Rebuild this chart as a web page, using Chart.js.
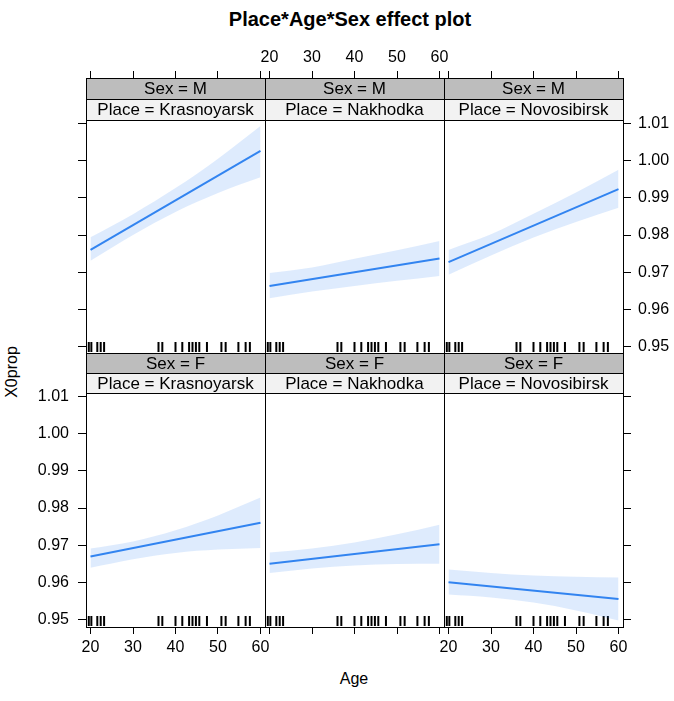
<!DOCTYPE html>
<html><head><meta charset="utf-8">
<script src="https://cdn.jsdelivr.net/npm/chart.js@4.4.0/dist/chart.umd.min.js"></script>
<style>
html,body{margin:0;padding:0;background:#fff;}
#wrap{position:relative;width:674px;height:701px;overflow:hidden;font-family:"Liberation Sans",Arial,Helvetica,sans-serif;color:#000;}
#wrap canvas{position:absolute;left:0;top:0;}
.t{position:absolute;white-space:nowrap;line-height:20px;}
#title{left:350px;top:8px;transform:translateX(-50%);font-weight:bold;font-size:20px;line-height:22px;}
#xlab{left:354px;top:669px;transform:translateX(-50%);font-size:16px;}
#ylab{left:12px;top:372px;transform:translate(-50%,-50%) rotate(-90deg);font-size:16px;}
</style></head><body>
<div id="wrap">
<div class="t" id="title">Place*Age*Sex effect plot</div>
<div class="t" id="xlab">Age</div>
<div class="t" id="ylab">X0prop</div>
</div>
<script>
// ---------------- data ----------------
const places = ['Krasnoyarsk', 'Nakhodka', 'Novosibirsk'];
const sexes = ['M', 'F'];
const xTicks = [20, 30, 40, 50, 60];
const yTicks = [0.95, 0.96, 0.97, 0.98, 0.99, 1.00, 1.01];
const fitAges = [20, 60];
const bandAges = [20, 30, 40, 50, 60];
const rugAges = [19.6, 20.2, 21.6, 22.4, 23.2, 36.0, 36.9, 40.0, 41.6, 43.2, 44.0, 44.8, 45.6, 47.4, 50.8, 51.8, 54.8, 56.5, 57.5];

const fitM_Krasnoyarsk = [0.9760, 1.0026];
const lowM_Krasnoyarsk = [0.9731, 0.9800, 0.9862, 0.9913, 0.9955];
const uppM_Krasnoyarsk = [0.9794, 0.9856, 0.9926, 1.0005, 1.0093];

const fitM_Nakhodka = [0.9663, 0.9737];
const lowM_Nakhodka = [0.9630, 0.9648, 0.9663, 0.9677, 0.9690];
const uppM_Nakhodka = [0.9698, 0.9713, 0.9736, 0.9759, 0.9784];

const fitM_Novosibirsk = [0.9727, 0.9923];
const lowM_Novosibirsk = [0.9693, 0.9745, 0.9793, 0.9835, 0.9873];
const uppM_Novosibirsk = [0.9760, 0.9802, 0.9857, 0.9914, 0.9975];

const fitF_Krasnoyarsk = [0.9669, 0.9760];
const lowF_Krasnoyarsk = [0.9639, 0.9662, 0.9679, 0.9688, 0.9692];
const uppF_Krasnoyarsk = [0.9691, 0.9710, 0.9740, 0.9780, 0.9828];

const fitF_Nakhodka = [0.9650, 0.9702];
const lowF_Nakhodka = [0.9625, 0.9637, 0.9645, 0.9649, 0.9650];
const uppF_Nakhodka = [0.9680, 0.9691, 0.9707, 0.9729, 0.9755];

const fitF_Novosibirsk = [0.9600, 0.9555];
const lowF_Novosibirsk = [0.9567, 0.9559, 0.9545, 0.9524, 0.9497];
const uppF_Novosibirsk = [0.9634, 0.9625, 0.9618, 0.9615, 0.9613];

const panelData = {
  M: {
    Krasnoyarsk: [fitM_Krasnoyarsk, lowM_Krasnoyarsk, uppM_Krasnoyarsk],
    Nakhodka: [fitM_Nakhodka, lowM_Nakhodka, uppM_Nakhodka],
    Novosibirsk: [fitM_Novosibirsk, lowM_Novosibirsk, uppM_Novosibirsk]
  },
  F: {
    Krasnoyarsk: [fitF_Krasnoyarsk, lowF_Krasnoyarsk, uppF_Krasnoyarsk],
    Nakhodka: [fitF_Nakhodka, lowF_Nakhodka, uppF_Nakhodka],
    Novosibirsk: [fitF_Novosibirsk, lowF_Novosibirsk, uppF_Novosibirsk]
  }
};

// ---------------- layout / style ----------------
const W = 674, H = 701;
const colX = [86, 265, 444, 623];
const rowG = [
  {top: 78, mid: 99, panelTop: 120, bottom: 353, y95: 346.7, y101: 123.3},
  {top: 353, mid: 373, panelTop: 393, bottom: 627, y95: 619.3, y101: 396.7}
];
const xEdge = 4.5;
const lineColor = '#3385F0';
const bandColor = 'rgba(51,133,240,0.16)';
const stripSexColor = '#BDBDBD';
const stripPlaceColor = '#F2F2F2';
const FONT = '"Liberation Sans", Arial, Helvetica, sans-serif';
const AXW = 60, AXH = 40;

Chart.defaults.font.family = FONT;
Chart.defaults.font.size = 16;
Chart.defaults.color = '#000';

const stripPlugin = {
  id: 'strips',
  afterDraw(chart, args, o) {
    const a = chart.chartArea, ctx = chart.ctx, g = rowG[o.row];
    const L = a.left, R = a.right, w = R - L;
    ctx.save();
    ctx.fillStyle = stripSexColor;
    ctx.fillRect(L, g.top, w, g.mid - g.top);
    ctx.fillStyle = stripPlaceColor;
    ctx.fillRect(L, g.mid, w, g.panelTop - g.mid);
    ctx.strokeStyle = '#000';
    ctx.lineWidth = 1;
    ctx.beginPath();
    ctx.moveTo(L, g.mid + 0.5); ctx.lineTo(R, g.mid + 0.5);
    ctx.moveTo(L, g.panelTop + 0.5); ctx.lineTo(R, g.panelTop + 0.5);
    ctx.stroke();
    ctx.strokeRect(L + 0.5, a.top + 0.5, w, a.bottom - a.top);
    ctx.fillStyle = '#000';
    ctx.font = '17px ' + FONT;
    ctx.textAlign = 'center';
    ctx.textBaseline = 'middle';
    ctx.fillText('Sex = ' + o.sex, (L + R) / 2, (g.top + g.mid) / 2 + 1);
    ctx.fillText('Place = ' + o.place, (L + R) / 2, (g.mid + g.panelTop) / 2 + 1);
    ctx.restore();
  }
};

function setTicks(list) { return s => { s.ticks = list.map(v => ({value: v})); }; }

function makeChart(r, c) {
  const sex = sexes[r], place = places[c];
  const [fit, low, upp] = panelData[sex][place];
  const g = rowG[r];
  const L = colX[c], R = colX[c + 1];
  const ppy = (R - L - 2 * xEdge) / 40;
  const xMin = 20 - xEdge / ppy, xMax = 60 + xEdge / ppy;
  const ppu = (g.y95 - g.y101) / 0.06;
  const yMin = 0.95 - (g.bottom - g.y95) / ppu;
  const yMax = 0.95 + (g.y95 - g.top) / ppu;
  const rugY = 6 / (g.bottom - g.top);

  const cv = document.createElement('canvas');
  cv.width = W; cv.height = H;
  cv.style.width = W + 'px'; cv.style.height = H + 'px';
  document.getElementById('wrap').appendChild(cv);

  const showLeft = c === 0, showRight = c === 2;
  const tickGrid = len => ({display: true, drawOnChartArea: false, drawTicks: true, tickLength: len, color: '#000', lineWidth: 1});

  new Chart(cv, {
    type: 'line',
    data: {
      datasets: [
        {data: bandAges.map((a, i) => ({x: a, y: upp[i]})), borderWidth: 0, pointRadius: 0, fill: '+1', cubicInterpolationMode: 'monotone', backgroundColor: bandColor, xAxisID: 'x', yAxisID: 'y'},
        {data: bandAges.map((a, i) => ({x: a, y: low[i]})), borderWidth: 0, pointRadius: 0, fill: false, cubicInterpolationMode: 'monotone', xAxisID: 'x', yAxisID: 'y'},
        {data: fitAges.map((a, i) => ({x: a, y: fit[i]})), borderColor: lineColor, borderWidth: 2, pointRadius: 0, fill: false, xAxisID: 'x', yAxisID: 'y'},
        {data: rugAges.map(a => ({x: a, y: rugY})), showLine: false, pointStyle: 'line', pointRotation: 90, pointRadius: 5, pointBorderWidth: 2, pointBorderColor: '#000', xAxisID: 'x', yAxisID: 'yr'}
      ]
    },
    options: {
      responsive: false, animation: false, devicePixelRatio: 1, events: [],
      layout: {
        autoPadding: false,
        padding: {
          left: L - (showLeft ? AXW : 0),
          right: W - R - (showRight ? AXW : 0),
          top: g.top - AXH * (r === 0 ? 1 : 0),
          bottom: H - g.bottom - AXH * (r === 1 ? 1 : 0)
        }
      },
      plugins: {legend: {display: false}, tooltip: {enabled: false}, strips: {row: r, sex: sex, place: place}},
      scales: {
        x: {
          type: 'linear', position: r === 0 ? 'top' : 'bottom', min: xMin, max: xMax,
          afterBuildTicks: setTicks(xTicks),
          ticks: {display: (r === 0 && c === 1) || (r === 1 && c !== 1), padding: 4, maxRotation: 0, autoSkip: false, callback: v => String(v)},
          grid: tickGrid(7), border: {display: false},
          afterFit: s => { s.height = AXH; s.paddingLeft = 0; s.paddingRight = 0; }
        },
        y: {
          type: 'linear', position: 'left', display: showLeft, min: yMin, max: yMax,
          afterBuildTicks: setTicks(yTicks),
          ticks: {display: r === 1, padding: 9, autoSkip: false, callback: v => v.toFixed(2)},
          grid: tickGrid(8), border: {display: false},
          afterFit: s => { s.width = showLeft ? AXW : 0; s.paddingTop = 0; s.paddingBottom = 0; }
        },
        y2: {
          type: 'linear', position: 'right', display: showRight, min: yMin, max: yMax,
          afterBuildTicks: setTicks(yTicks),
          ticks: {display: r === 0, padding: 7, autoSkip: false, callback: v => v.toFixed(2)},
          grid: tickGrid(8), border: {display: false},
          afterFit: s => { s.width = showRight ? AXW : 0; s.paddingTop = 0; s.paddingBottom = 0; }
        },
        yr: {type: 'linear', display: false, min: 0, max: 1,
          afterFit: s => { s.width = 0; s.paddingTop = 0; s.paddingBottom = 0; }}
      }
    },
    plugins: [stripPlugin]
  });
}

for (let r = 0; r < 2; r++) for (let c = 0; c < 3; c++) makeChart(r, c);
</script>
</body></html>
